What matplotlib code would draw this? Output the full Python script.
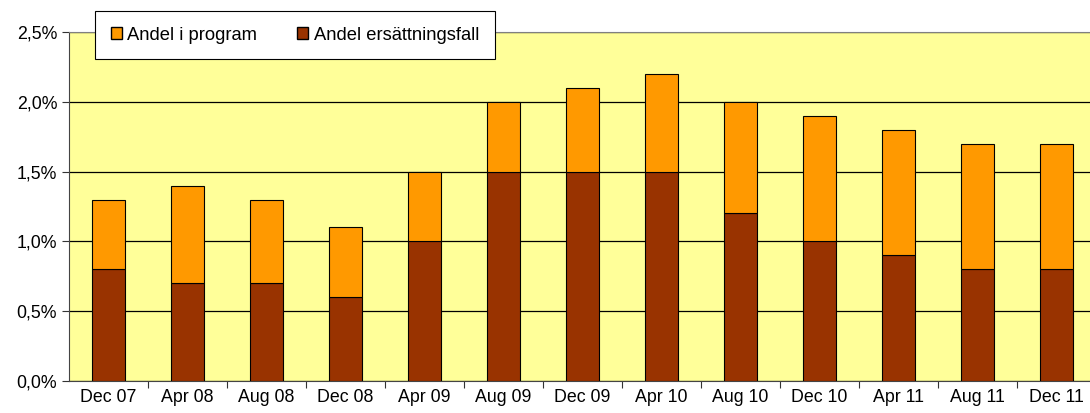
import matplotlib
matplotlib.use("Agg")
import matplotlib.pyplot as plt
from matplotlib.patches import Patch
from matplotlib.ticker import FuncFormatter, MultipleLocator

# values (percent)
Labels = ["Dec 07", "Apr 08", "Aug 08", "Dec 08", "Apr 09", "Aug 09", "Dec 09",
          "Apr 10", "Aug 10", "Dec 10", "Apr 11", "Aug 11", "Dec 11"]
Ersattning = [0.8, 0.7, 0.7, 0.6, 1.0, 1.5, 1.5, 1.5, 1.2, 1.0, 0.9, 0.8, 0.8]
Program = [0.5, 0.7, 0.6, 0.5, 0.5, 0.5, 0.6, 0.7, 0.8, 0.9, 0.9, 0.9, 0.9]

plt.rcParams['font.family'] = ['Liberation Sans', 'DejaVu Sans']

fig = plt.figure(figsize=(10.9, 4.13), dpi=100)
ax = fig.add_axes([69 / 1090, 1 - 381 / 413, 1027 / 1090, 349 / 413])
ax.set_facecolor("#FFFF99")

x = range(len(Labels))
ax.bar(x, Ersattning, width=0.41, color="#993300", edgecolor="black", linewidth=0.8, zorder=3)
ax.bar(x, Program, width=0.41, bottom=Ersattning, color="#FF9900", edgecolor="black", linewidth=0.8, zorder=3)

ax.set_xlim(-0.5, len(Labels) - 0.5)
ax.set_ylim(0, 2.5)
ax.yaxis.set_major_locator(MultipleLocator(0.5))
ax.yaxis.set_major_formatter(FuncFormatter(lambda v, p: ("%.1f%%" % v).replace(".", ",")))
ax.grid(axis="y", color="black", linewidth=0.9, zorder=1)

ax.set_xticks([i + 0.5 for i in range(len(Labels))], minor=False)
ax.set_xticklabels([])
ax.set_xticks(list(x), minor=True)
ax.set_xticklabels(Labels, minor=True)
ax.tick_params(axis="x", which="minor", length=0, labelsize=12.8, pad=6)
ax.tick_params(axis="x", which="major", length=5, direction="out", color="#333333")
ax.tick_params(axis="y", length=5, direction="out", labelsize=12.8, color="#333333")

ax.spines["left"].set_color("#444444")
ax.spines["bottom"].set_color("#444444")
ax.spines["top"].set_color("#808080")
ax.spines["right"].set_visible(False)

handles = [Patch(facecolor="#FF9900", edgecolor="black", label="Andel i program"),
           Patch(facecolor="#993300", edgecolor="black", label="Andel ersättningsfall")]
leg = fig.legend(handles=handles, ncol=2, loc="upper left",
                 bbox_to_anchor=(95 / 1090, 1 - 11 / 413), fontsize=13.2,
                 fancybox=False, framealpha=1, edgecolor="black",
                 handlelength=0.6, handleheight=0.6, handletextpad=0.3,
                 columnspacing=2.2, borderpad=0.85, borderaxespad=0)
leg.get_frame().set_linewidth(0.8)

fig.savefig("out.png", dpi=100)
